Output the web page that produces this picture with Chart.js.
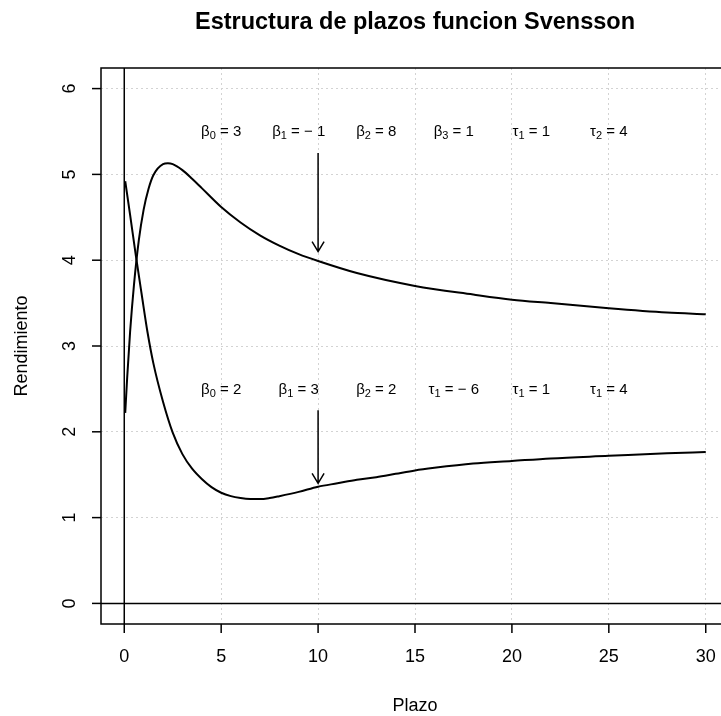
<!DOCTYPE html>
<html>
<head>
<meta charset="utf-8">
<script src="https://cdn.jsdelivr.net/npm/chart.js@4.4.1/dist/chart.umd.min.js"></script>
<style>
  html, body { margin: 0; padding: 0; overflow: hidden; background: #ffffff; }
</style>
</head>
<body>
<canvas id="grafico" width="740" height="716"></canvas>
<script>
// --- Datos ---
const plazoSup = [0.05, 0.15, 0.3, 0.5, 0.75, 1, 1.25, 1.5, 2, 2.25, 2.5, 3, 3.5, 4, 5, 6, 7, 8, 9, 10, 12, 15, 18, 20, 22, 25, 28, 30];
const rendSup  = [2.22, 2.63, 3.16, 3.71, 4.23, 4.59, 4.83, 4.99, 5.12, 5.13, 5.12, 5.05, 4.95, 4.84, 4.62, 4.44, 4.29, 4.17, 4.07, 3.99, 3.85, 3.70, 3.60, 3.54, 3.50, 3.44, 3.39, 3.37];

const plazoInf = [0.05, 0.3, 0.6, 0.9, 1.2, 1.5, 2, 2.5, 3, 3.5, 4, 4.5, 5, 5.5, 6, 6.5, 7, 7.5, 8, 9, 10, 11, 12, 13, 14, 15, 16, 18, 20, 22, 25, 28, 30];
const rendInf  = [4.92, 4.53, 4.05, 3.60, 3.16, 2.80, 2.35, 1.99, 1.74, 1.57, 1.45, 1.355, 1.29, 1.25, 1.228, 1.217, 1.216, 1.228, 1.25, 1.30, 1.36, 1.40, 1.44, 1.47, 1.51, 1.55, 1.58, 1.63, 1.66, 1.69, 1.72, 1.75, 1.765];

const ticksX = [0, 5, 10, 15, 20, 25, 30];
const ticksY = [0, 1, 2, 3, 4, 5, 6];

// etiquetas de parametros: simbolo, subindice, resto
const posEtiquetas = [5, 9, 13, 17, 21, 25];
const etiquetasSup = [['β', '0', ' = 3'], ['β', '1', ' = − 1'], ['β', '2', ' = 8'], ['β', '3', ' = 1'], ['τ', '1', ' = 1'], ['τ', '2', ' = 4']];
const etiquetasInf = [['β', '0', ' = 2'], ['β', '1', ' = 3'], ['β', '2', ' = 2'], ['τ', '1', ' = − 6'], ['τ', '1', ' = 1'], ['τ', '1', ' = 4']];
const alturaSup = 5.5;
const alturaInf = 2.5;

// flechas en plazo 10: [desde, hasta]
const flechaX = 10;
const flechaSup = [5.25, 4.1];
const flechaInf = [2.25, 1.4];

const FUENTE = '"Liberation Sans", Arial, sans-serif';

// --- Plugin: caja, ejes estilo R, textos y flechas ---
const estiloR = {
  id: 'estiloR',
  afterDatasetsDraw(chart) {
    const { ctx, chartArea: a, scales: { x, y } } = chart;
    ctx.save();
    ctx.strokeStyle = '#000';
    ctx.fillStyle = '#000';

    // lineas de referencia en 0
    ctx.save();
    ctx.beginPath();
    ctx.rect(a.left, a.top, a.right - a.left, a.bottom - a.top);
    ctx.clip();
    ctx.lineWidth = 1.5;
    ctx.beginPath();
    ctx.moveTo(x.getPixelForValue(0), a.top);
    ctx.lineTo(x.getPixelForValue(0), a.bottom);
    ctx.moveTo(a.left, y.getPixelForValue(0));
    ctx.lineTo(a.right, y.getPixelForValue(0));
    ctx.stroke();
    ctx.restore();

    // flechas
    ctx.lineWidth = 1.5;
    [flechaSup, flechaInf].forEach(f => {
      const px = x.getPixelForValue(flechaX);
      const y0 = y.getPixelForValue(f[0]);
      const y1 = y.getPixelForValue(f[1]);
      ctx.beginPath();
      ctx.moveTo(px, y0);
      ctx.lineTo(px, y1);
      ctx.moveTo(px - 6, y1 - 10);
      ctx.lineTo(px, y1);
      ctx.lineTo(px + 6, y1 - 10);
      ctx.stroke();
    });

    // etiquetas de parametros
    const dibujarEtiqueta = (e, cx, cy) => {
      ctx.font = '15px ' + FUENTE;
      const w1 = ctx.measureText(e[0]).width;
      const w3 = ctx.measureText(e[2]).width;
      ctx.font = '11px ' + FUENTE;
      const w2 = ctx.measureText(e[1]).width;
      let sx = cx - (w1 + w2 + w3) / 2;
      ctx.textAlign = 'left';
      ctx.textBaseline = 'alphabetic';
      ctx.font = '15px ' + FUENTE;
      ctx.fillText(e[0], sx, cy + 5);
      ctx.font = '11px ' + FUENTE;
      ctx.fillText(e[1], sx + w1, cy + 8);
      ctx.font = '15px ' + FUENTE;
      ctx.fillText(e[2], sx + w1 + w2, cy + 5);
    };
    posEtiquetas.forEach((p, i) => {
      dibujarEtiqueta(etiquetasSup[i], x.getPixelForValue(p), y.getPixelForValue(alturaSup));
      dibujarEtiqueta(etiquetasInf[i], x.getPixelForValue(p), y.getPixelForValue(alturaInf));
    });

    // caja
    ctx.lineWidth = 1.5;
    ctx.strokeRect(a.left, a.top, a.right - a.left, a.bottom - a.top);

    // marcas y numeros de los ejes
    ctx.font = '18px ' + FUENTE;
    ctx.lineWidth = 1.5;
    ticksX.forEach(v => {
      const px = x.getPixelForValue(v);
      ctx.beginPath();
      ctx.moveTo(px, a.bottom);
      ctx.lineTo(px, a.bottom + 9);
      ctx.stroke();
      ctx.textAlign = 'center';
      ctx.textBaseline = 'middle';
      ctx.fillText(String(v), px, a.bottom + 33);
    });
    ticksY.forEach(v => {
      const py = y.getPixelForValue(v);
      ctx.beginPath();
      ctx.moveTo(a.left, py);
      ctx.lineTo(a.left - 9, py);
      ctx.stroke();
      ctx.save();
      ctx.translate(a.left - 31, py);
      ctx.rotate(-Math.PI / 2);
      ctx.textAlign = 'center';
      ctx.textBaseline = 'middle';
      ctx.fillText(String(v), 0, 0);
      ctx.restore();
    });

    // titulos
    const centroX = (a.left + a.right) / 2;
    ctx.textAlign = 'center';
    ctx.textBaseline = 'middle';
    ctx.font = 'bold 23.5px ' + FUENTE;
    ctx.fillText('Estructura de plazos funcion Svensson', centroX, 23);
    ctx.font = '18px ' + FUENTE;
    ctx.fillText('Plazo', centroX, 706);
    ctx.save();
    ctx.translate(22, (a.top + a.bottom) / 2);
    ctx.rotate(-Math.PI / 2);
    ctx.fillText('Rendimiento', 0, 0);
    ctx.restore();

    ctx.restore();
  }
};

const serie = (xs, ys) => xs.map((v, i) => ({ x: v, y: ys[i] }));

new Chart(document.getElementById('grafico'), {
  type: 'line',
  data: {
    datasets: [
      { data: serie(plazoSup, rendSup), borderColor: '#000', borderWidth: 2, pointRadius: 0, cubicInterpolationMode: 'monotone', fill: false },
      { data: serie(plazoInf, rendInf), borderColor: '#000', borderWidth: 2, pointRadius: 0, cubicInterpolationMode: 'monotone', fill: false }
    ]
  },
  options: {
    responsive: false,
    animation: false,
    layout: { padding: { left: 101, right: 11, top: 68, bottom: 92 } },
    plugins: { legend: { display: false }, title: { display: false }, tooltip: { enabled: false } },
    scales: {
      x: {
        type: 'linear', min: -1.2, max: 31.2,
        afterBuildTicks: s => { s.ticks = ticksX.map(v => ({ value: v })); },
        ticks: { display: false },
        grid: { color: '#d3d3d3', lineWidth: 1, drawTicks: false },
        border: { display: false, dash: [2, 3] }
      },
      y: {
        type: 'linear', min: -0.24, max: 6.24,
        afterBuildTicks: s => { s.ticks = ticksY.map(v => ({ value: v })); },
        ticks: { display: false },
        grid: { color: '#d3d3d3', lineWidth: 1, drawTicks: false },
        border: { display: false, dash: [2, 3] }
      }
    }
  },
  plugins: [estiloR]
});
</script>
</body>
</html>
